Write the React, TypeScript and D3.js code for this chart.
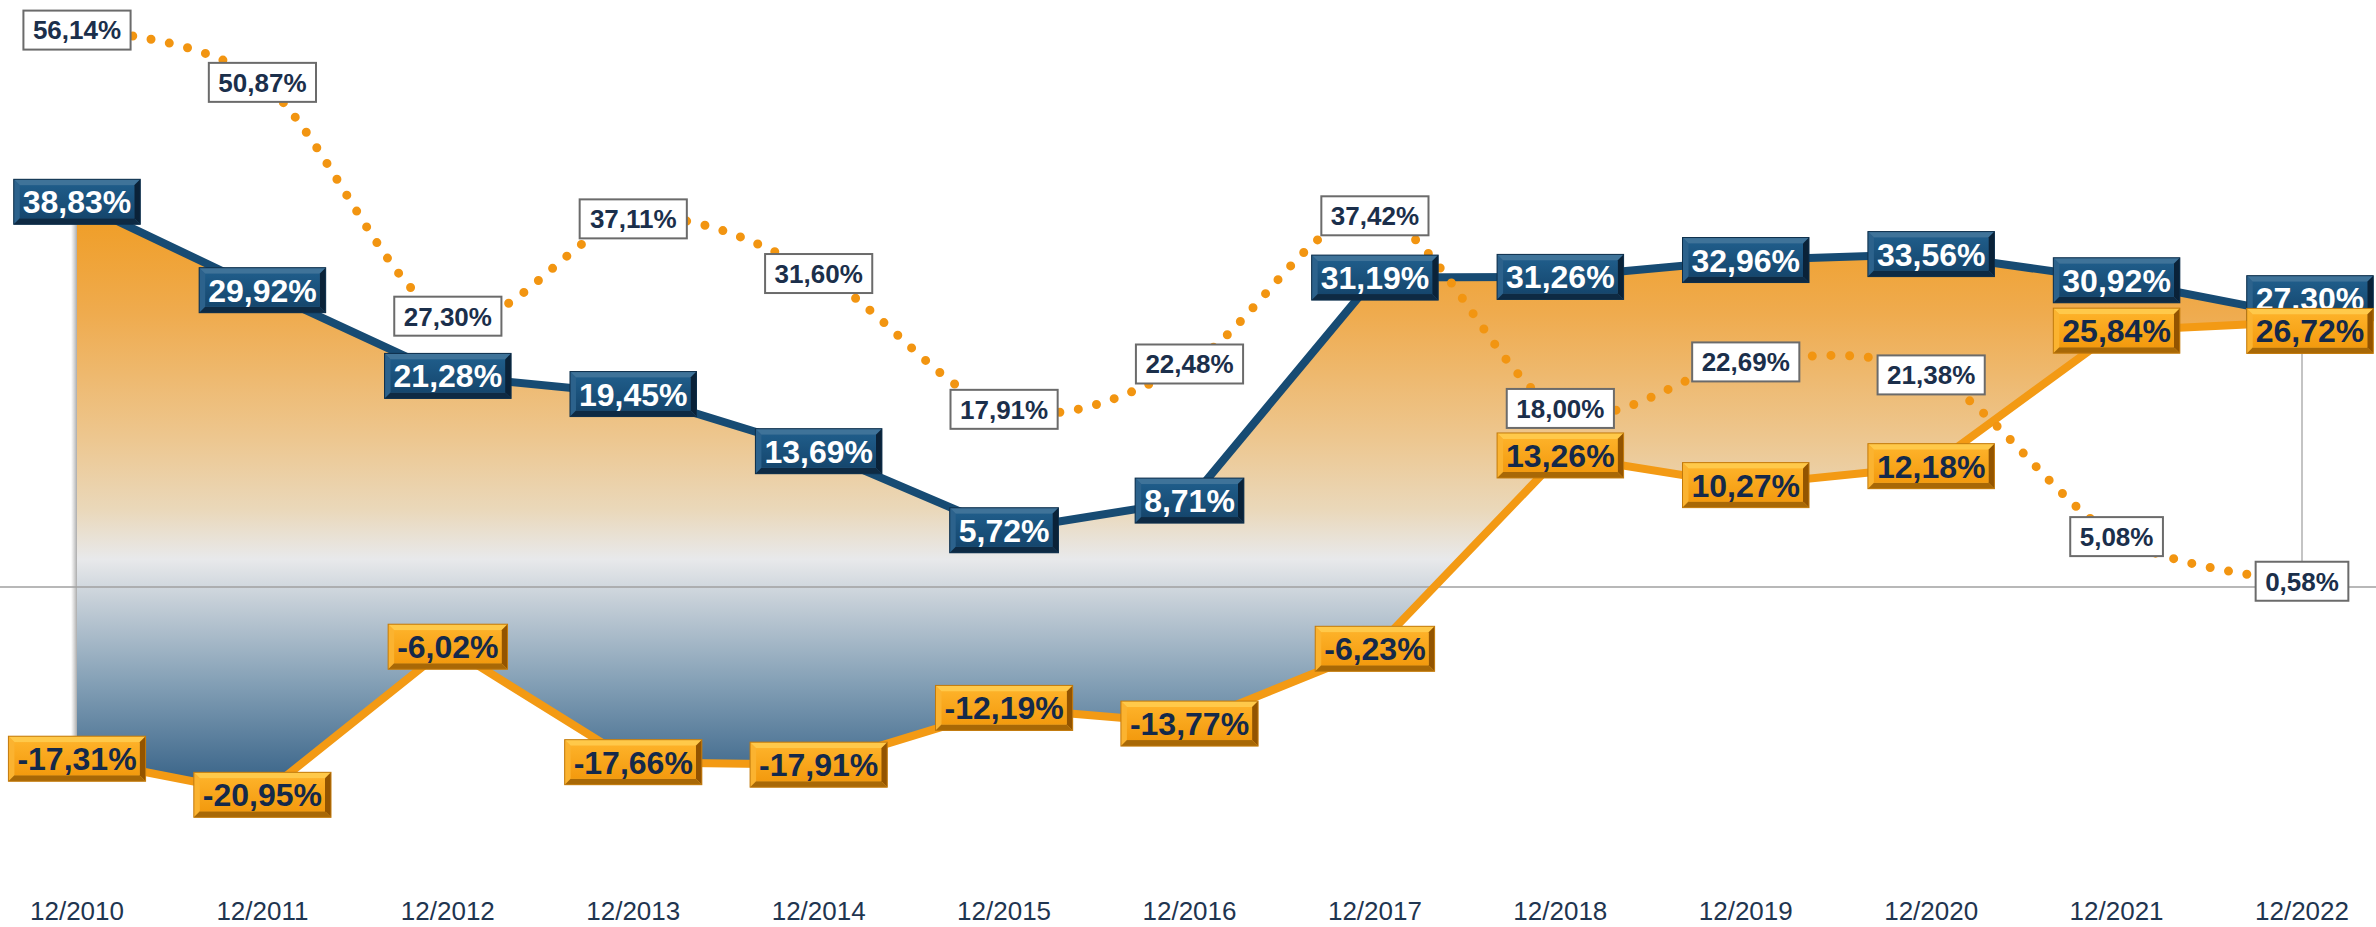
import React from "react";
import * as d3 from "d3";

const categories = ["12/2010","12/2011","12/2012","12/2013","12/2014","12/2015","12/2016","12/2017","12/2018","12/2019","12/2020","12/2021","12/2022"];
const blueValues = [38.83, 29.92, 21.28, 19.45, 13.69, 5.72, 8.71, 31.19, 31.26, 32.96, 33.56, 30.92, 27.30];
const orangeValues = [-17.31, -20.95, -6.02, -17.66, -17.91, -12.19, -13.77, -6.23, 13.26, 10.27, 12.18, 25.84, 26.72];
const dottedValues = [56.14, 50.87, 27.30, 37.11, 31.60, 17.91, 22.48, 37.42, 18.00, 22.69, 21.38, 5.08, 0.58];

const W = 2376, H = 927;
const FONT = "'Liberation Sans', Arial, sans-serif";

const fmt = (v: number) => v.toFixed(2).replace(".", ",") + "%";
const charW = (c: string) => {
  if (c >= "0" && c <= "9") return 0.556;
  if (c === ",") return 0.278;
  if (c === "%") return 0.889;
  if (c === "-") return 0.333;
  return 0.556;
};
const textWidth = (s: string, size: number) => s.split("").reduce((a, c) => a + charW(c), 0) * size;

type BevelProps = { cx: number; cy: number; text: string; kind: "blue" | "orange" };
function BevelLabel({ cx, cy, text, kind }: BevelProps) {
  const fs = 32;
  const w = textWidth(text, fs) + 18;
  const h = 45;
  const x = cx - w / 2, y = cy - h / 2;
  const b = 6;
  const c = kind === "blue"
    ? { top: "#3f7399", left: "#2c628c", right: "#0a2238", bottom: "#0e2a43", face: "url(#gBlueFace)", stroke: "#0d2e4a", text: "#ffffff" }
    : { top: "#ffc94a", left: "#fbb330", right: "#935400", bottom: "#a86806", face: "url(#gOrangeFace)", stroke: "#c27a0c", text: "#14294a" };
  return (
    <g>
      <rect x={x} y={y} width={w} height={h} fill={c.left} />
      <polygon points={`${x},${y} ${x + w},${y} ${x + w - b},${y + b} ${x + b},${y + b}`} fill={c.top} />
      <polygon points={`${x},${y} ${x + b},${y + b} ${x + b},${y + h - b} ${x},${y + h}`} fill={c.left} />
      <polygon points={`${x + w},${y} ${x + w},${y + h} ${x + w - b},${y + h - b} ${x + w - b},${y + b}`} fill={c.right} />
      <polygon points={`${x},${y + h} ${x + w},${y + h} ${x + w - b},${y + h - b} ${x + b},${y + h - b}`} fill={c.bottom} />
      <rect x={x + b} y={y + b} width={w - 2 * b} height={h - 2 * b} fill={c.face} />
      <rect x={x} y={y} width={w} height={h} fill="none" stroke={c.stroke} strokeWidth={1} />
      <text x={cx} y={cy} dy="0.36em" textAnchor="middle" fontFamily={FONT} fontWeight="bold" fontSize={fs} fill={c.text}>{text}</text>
    </g>
  );
}

function WhiteLabel({ cx, cy, text }: { cx: number; cy: number; text: string }) {
  const fs = 26;
  const w = textWidth(text, fs) + 19;
  const h = 39;
  return (
    <g>
      <rect x={cx - w / 2} y={cy - h / 2} width={w} height={h} fill="#ffffff" stroke="#6b6b6b" strokeWidth={2} />
      <text x={cx} y={cy} dy="0.36em" textAnchor="middle" fontFamily={FONT} fontWeight="bold" fontSize={fs} fill="#1b2f4b">{text}</text>
    </g>
  );
}

export default function App() {
  const x = d3.scalePoint<string>().domain(categories).range([77, 2302]);
  const y = d3.scaleLinear().domain([-30, 60]).range([884.6, -8.2]);

  const idx = categories.map((_, i) => i);
  const area = d3.area<number>()
    .x(i => x(categories[i]) as number)
    .y0(i => y(orangeValues[i]))
    .y1(i => y(blueValues[i]));
  const lineOf = (vals: number[]) => d3.line<number>().x(i => x(categories[i]) as number).y(i => y(vals[i]));
  const dotted = d3.line<number>()
    .x(i => x(categories[i]) as number)
    .y(i => y(dottedValues[i]))
    .curve(d3.curveCardinal.tension(0));

  const x0 = x(categories[0]) as number;
  const xN = x(categories[categories.length - 1]) as number;
  const last = categories.length - 1;
  const y0 = y(0);

  return (
    <svg width={W} height={H} style={{ position: "absolute", left: 0, top: 0, background: "#ffffff" }}>
      <defs>
        <linearGradient id="gBand" gradientUnits="userSpaceOnUse" x1={0} y1={y(40)} x2={0} y2={y(-22)}>
          <stop offset="0" stopColor="#f09a1c" />
          <stop offset="0.2" stopColor="#efab4e" />
          <stop offset="0.4" stopColor="#edc68e" />
          <stop offset="0.52" stopColor="#ead8ba" />
          <stop offset="0.6" stopColor="#e8e9eb" />
          <stop offset="0.67" stopColor="#c4ced7" />
          <stop offset="0.8" stopColor="#84a0b6" />
          <stop offset="1" stopColor="#28567e" />
        </linearGradient>
        <linearGradient id="gBlueFace" x1="0" y1="0" x2="0" y2="1">
          <stop offset="0" stopColor="#1f5c89" />
          <stop offset="1" stopColor="#15466d" />
        </linearGradient>
        <linearGradient id="gOrangeFace" x1="0" y1="0" x2="0" y2="1">
          <stop offset="0" stopColor="#fdb128" />
          <stop offset="1" stopColor="#f39a0e" />
        </linearGradient>
        <linearGradient id="gShadowL" x1="0" y1="0" x2="1" y2="0">
          <stop offset="0" stopColor="#999" stopOpacity="0" />
          <stop offset="1" stopColor="#888" stopOpacity="0.7" />
        </linearGradient>
        <filter id="blur2" x="-50%" y="-50%" width="200%" height="200%">
          <feGaussianBlur stdDeviation="1.5" />
        </filter>
      </defs>

      {/* left shadow of band */}
      <rect x={x0 - 6} y={y(blueValues[0])} width={6} height={y(orangeValues[0]) - y(blueValues[0])} fill="url(#gShadowL)" />
      {/* vertical edge on the right */}
      <line x1={xN + 2} x2={xN + 2} y1={y(orangeValues[last])} y2={y0} stroke="#bbbbbb" strokeWidth={3} filter="url(#blur2)" />
      <line x1={xN} x2={xN} y1={y(orangeValues[last])} y2={y0} stroke="#c4c4c4" strokeWidth={2} />

      {/* band */}
      <path d={area(idx) || ""} fill="url(#gBand)" />

      {/* zero line */}
      <line x1={x0} x2={xN} y1={y0 + 2} y2={y0 + 2} stroke="#8a8a8a" strokeWidth={3} opacity={0.6} filter="url(#blur2)" />
      <line x1={0} x2={W} y1={y0} y2={y0} stroke="#a0a0a0" strokeWidth={1.5} />

      {/* solid lines */}
      <path d={lineOf(blueValues)(idx) || ""} fill="none" stroke="#174b73" strokeWidth={8} strokeLinejoin="round" />
      <path d={lineOf(orangeValues)(idx) || ""} fill="none" stroke="#f39a14" strokeWidth={8} strokeLinejoin="round" />

      {/* dotted line */}
      <path d={dotted(idx) || ""} fill="none" stroke="#f29511" strokeWidth={9} strokeLinecap="round" strokeDasharray="0 18.7" />

      {/* labels */}
      {idx.map(i => (
        <WhiteLabel key={"w" + i} cx={x(categories[i]) as number} cy={y(dottedValues[i])} text={fmt(dottedValues[i])} />
      ))}
      {idx.map(i => (
        <BevelLabel key={"b" + i} kind="blue"
          cx={(x(categories[i]) as number) + (i === last ? 8 : 0)}
          cy={y(blueValues[i]) + (i === last ? -18 : 0)}
          text={fmt(blueValues[i])} />
      ))}
      {idx.map(i => (
        <BevelLabel key={"o" + i} kind="orange"
          cx={(x(categories[i]) as number) + (i === last ? 8 : 0)}
          cy={y(orangeValues[i]) + (i === last ? 9 : 0)}
          text={fmt(orangeValues[i])} />
      ))}

      {/* x-axis labels */}
      {categories.map(c => (
        <text key={c} x={x(c) as number} y={920} textAnchor="middle" fontFamily={FONT} fontSize={26} fill="#1f3550">{c}</text>
      ))}
    </svg>
  );
}
